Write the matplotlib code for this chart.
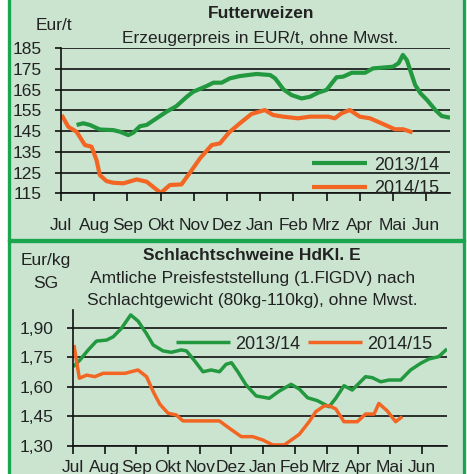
import matplotlib
matplotlib.use("Agg")
import matplotlib.pyplot as plt
from matplotlib.patches import Rectangle

# ------------------------------ Daten ------------------------------
monate = ["Jul", "Aug", "Sep", "Okt", "Nov", "Dez", "Jan", "Feb", "Mrz", "Apr", "Mai", "Jun"]
serien = ["2013/14", "2014/15"]

# Futterweizen, Erzeugerpreis EUR/t (x = Monate ab Juli)
weizen_x_1314 = [0.47, 0.67, 0.87, 1.17, 1.58, 1.78, 2.03, 2.18, 2.38, 2.58, 2.88, 3.18, 3.48,
                 3.79, 3.98, 4.39, 4.59, 4.84, 5.09, 5.39, 5.89, 6.3, 6.45, 6.7, 6.95, 7.25,
                 7.5, 7.75, 8.0, 8.3, 8.5, 8.76, 9.16, 9.4, 10.0, 10.17, 10.3, 10.42, 10.67,
                 10.83, 11.03, 11.28, 11.47, 11.72]
weizen_y_1314 = [148, 148.8, 148, 145.8, 145.5, 144.7, 143.1, 144.3, 147.4, 148, 151.2, 154.4,
                 157.1, 161.6, 164, 166.8, 168.4, 168.4, 170.5, 171.6, 172.6, 172.1, 170.5,
                 165.2, 162.4, 160.8, 161.6, 163.6, 164.9, 171.0, 171.3, 173.2, 173.2, 175.3,
                 176.1, 177.8, 181.8, 179.3, 167.3, 163.3, 160, 155.2, 152.3, 151.5]
weizen_x_1415 = [0.02, 0.22, 0.47, 0.72, 0.92, 1.07, 1.17, 1.37, 1.57, 1.88, 2.28, 2.58, 2.83,
                 3.01, 3.28, 3.63, 3.94, 4.19, 4.54, 4.79, 5.06, 5.39, 5.74, 6.14, 6.39, 6.69,
                 7.14, 7.5, 8.05, 8.25, 8.45, 8.7, 9.0, 9.31, 9.71, 10.06, 10.31, 10.59]
weizen_y_1415 = [152.8, 147.1, 144.7, 138.3, 137.5, 131, 123.8, 120.9, 120.1, 119.8, 121.7,
                 120.6, 117.4, 115.2, 119, 119.3, 126.2, 131.9, 138.3, 139.1, 144.3, 148.8,
                 153.3, 155.2, 152.8, 152, 151.2, 152, 152, 151.2, 153.6, 155.2, 152, 151.2,
                 148.4, 145.9, 145.9, 144.4]

# Schlachtschweine HdKl. E, Eur/kg SG
schwein_x_1314 = [0.01, 0.22, 0.48, 0.74, 1.06, 1.27, 1.53, 1.82, 2.05, 2.31, 2.53, 2.84, 3.1,
                  3.42, 3.58, 3.84, 4.1, 4.36, 4.62, 4.83, 5.0, 5.2, 5.46, 5.78, 6.19, 6.51,
                  6.88, 7.14, 7.4, 7.71, 8.08, 8.29, 8.55, 8.81, 9.23, 9.44, 9.71, 9.97, 10.34,
                  10.65, 10.97, 11.23, 11.54, 11.8]
schwein_y_1314 = [1.702, 1.736, 1.787, 1.832, 1.837, 1.854, 1.897, 1.965, 1.934, 1.872, 1.812,
                  1.782, 1.775, 1.787, 1.782, 1.731, 1.676, 1.685, 1.676, 1.714, 1.722, 1.676,
                  1.609, 1.553, 1.541, 1.578, 1.612, 1.588, 1.544, 1.529, 1.498, 1.541, 1.605,
                  1.583, 1.651, 1.646, 1.625, 1.634, 1.634, 1.685, 1.719, 1.741, 1.753, 1.792]
schwein_x_1415 = [0.03, 0.2, 0.43, 0.69, 0.95, 1.64, 2.05, 2.32, 2.53, 2.74, 3.0, 3.26, 3.47,
                  4.62, 4.94, 5.31, 5.67, 5.99, 6.3, 6.67, 7.14, 7.45, 7.66, 7.92, 8.08, 8.29,
                  8.55, 8.97, 9.23, 9.5, 9.65, 9.92, 10.18, 10.39]
schwein_y_1415 = [1.812, 1.643, 1.659, 1.651, 1.668, 1.668, 1.685, 1.651, 1.575, 1.511, 1.465,
                  1.456, 1.426, 1.426, 1.388, 1.346, 1.346, 1.329, 1.304, 1.304, 1.358, 1.422,
                  1.473, 1.502, 1.503, 1.487, 1.422, 1.422, 1.461, 1.461, 1.515, 1.476, 1.422,
                  1.448]

weizen_ticks = [115, 125, 135, 145, 155, 165, 175, 185]
schwein_ticks = [1.30, 1.45, 1.60, 1.75, 1.90]
schwein_labels = ["1,30", "1,45", "1,60", "1,75", "1,90"]

# ------------------------------ Stil ------------------------------
W, H = 467, 474
hintergrund = "#cbe4d0"
rahmen = "#1aa64f"
gruen = "#22983f"
orange = "#f26522"
textfarbe = "#222222"
gross = 12.5

plt.rcParams['font.family'] = ['Liberation Sans', 'DejaVu Sans']
plt.rcParams['text.color'] = textfarbe


def box(x0, y0, x1, y1):
    # Pixelkoordinaten (oben links) -> Figurkoordinaten
    return [x0 / W, 1 - y1 / H, (x1 - x0) / W, (y1 - y0) / H]


def ftext(x, y, s, **kw):
    fig.text(x / W, 1 - y / H, s, **kw)


def achse_stil(ax, ticks, labels, xmax, ymin, ymax, pad_x):
    ax.set_facecolor("none")
    ax.set_zorder(2)
    ax.set_xlim(0, xmax)
    ax.set_ylim(ymin, ymax)
    ax.set_yticks(ticks)
    ax.set_yticklabels(labels)
    ax.set_xticks(range(12))
    ax.set_xticklabels(monate)
    for s in ["top", "right"]:
        ax.spines[s].set_visible(False)
    for s in ["left", "bottom"]:
        ax.spines[s].set_color("#111111")
        ax.spines[s].set_linewidth(1.2)
    ax.grid(axis="y", color="#111111", linewidth=1.2)
    ax.tick_params(axis="y", length=4, width=1.2, pad=10, labelsize=gross, colors="#111111",
                   labelcolor=textfarbe)
    ax.tick_params(axis="x", length=6, width=1.2, pad=pad_x, labelsize=gross, colors="#111111",
                   labelcolor=textfarbe)


fig = plt.figure(figsize=(W / 100, H / 100), dpi=100)
fig.patch.set_facecolor("white")

# Panels
fig.patches.append(Rectangle((8.5 / W, 1 - 240.5 / H), 455 / W, 250 / H, transform=fig.transFigure,
                             facecolor=hintergrund, edgecolor=rahmen, linewidth=2.4, zorder=-5))
fig.patches.append(Rectangle((8.5 / W, 1 - 490 / H), 455 / W, 249.5 / H, transform=fig.transFigure,
                             facecolor=hintergrund, edgecolor=rahmen, linewidth=2.4, zorder=-5))

# ------------------------------ Futterweizen ------------------------------
ax1 = fig.add_axes(box(61, 48.3, 450, 193.3))
ax1.plot(weizen_x_1314, weizen_y_1314, color=gruen, linewidth=3, label=serien[0],
         solid_capstyle="butt")
ax1.plot(weizen_x_1415, weizen_y_1415, color=orange, linewidth=3, label=serien[1],
         solid_capstyle="butt")
achse_stil(ax1, weizen_ticks, [str(t) for t in weizen_ticks], 11.72, 115, 185, 12)
ax1.legend(loc="lower right", bbox_to_anchor=(0.99, -0.075), frameon=False, fontsize=13,
           handlelength=3.0, handletextpad=0.4, labelspacing=0.35, borderaxespad=0)

ftext(261, 14, "Futterweizen", ha="center", va="center", fontsize=gross, fontweight="bold")
ftext(260, 38, "Erzeugerpreis in EUR/t, ohne Mwst.", ha="center", va="center", fontsize=gross)
ftext(54, 25, "Eur/t", ha="center", va="center", fontsize=gross)

# ------------------------------ Schlachtschweine ------------------------------
ax2 = fig.add_axes(box(73, 310, 447, 445.7))
ax2.plot(schwein_x_1314, schwein_y_1314, color=gruen, linewidth=2.5, label=serien[0],
         solid_capstyle="butt")
ax2.plot(schwein_x_1415, schwein_y_1415, color=orange, linewidth=2.5, label=serien[1],
         solid_capstyle="butt")
achse_stil(ax2, schwein_ticks, schwein_labels, 11.8, 1.30, 1.99, 4)
ax2.legend(loc="upper right", bbox_to_anchor=(0.98, 0.865), ncol=2, frameon=False, fontsize=13,
           handlelength=3.0, handletextpad=0.3, columnspacing=0.4, borderaxespad=0)

ftext(252, 255, "Schlachtschweine HdKl. E", ha="center", va="center", fontsize=gross,
      fontweight="bold")
ftext(253, 278, "Amtliche Preisfeststellung (1.FlGDV) nach", ha="center", va="center",
      fontsize=gross)
ftext(252, 300, "Schlachtgewicht (80kg-110kg), ohne Mwst.", ha="center", va="center",
      fontsize=gross)
ftext(46, 260, "Eur/kg", ha="center", va="center", fontsize=gross)
ftext(46, 283, "SG", ha="center", va="center", fontsize=gross)

fig.savefig("out.png", dpi=100, facecolor=fig.get_facecolor())
